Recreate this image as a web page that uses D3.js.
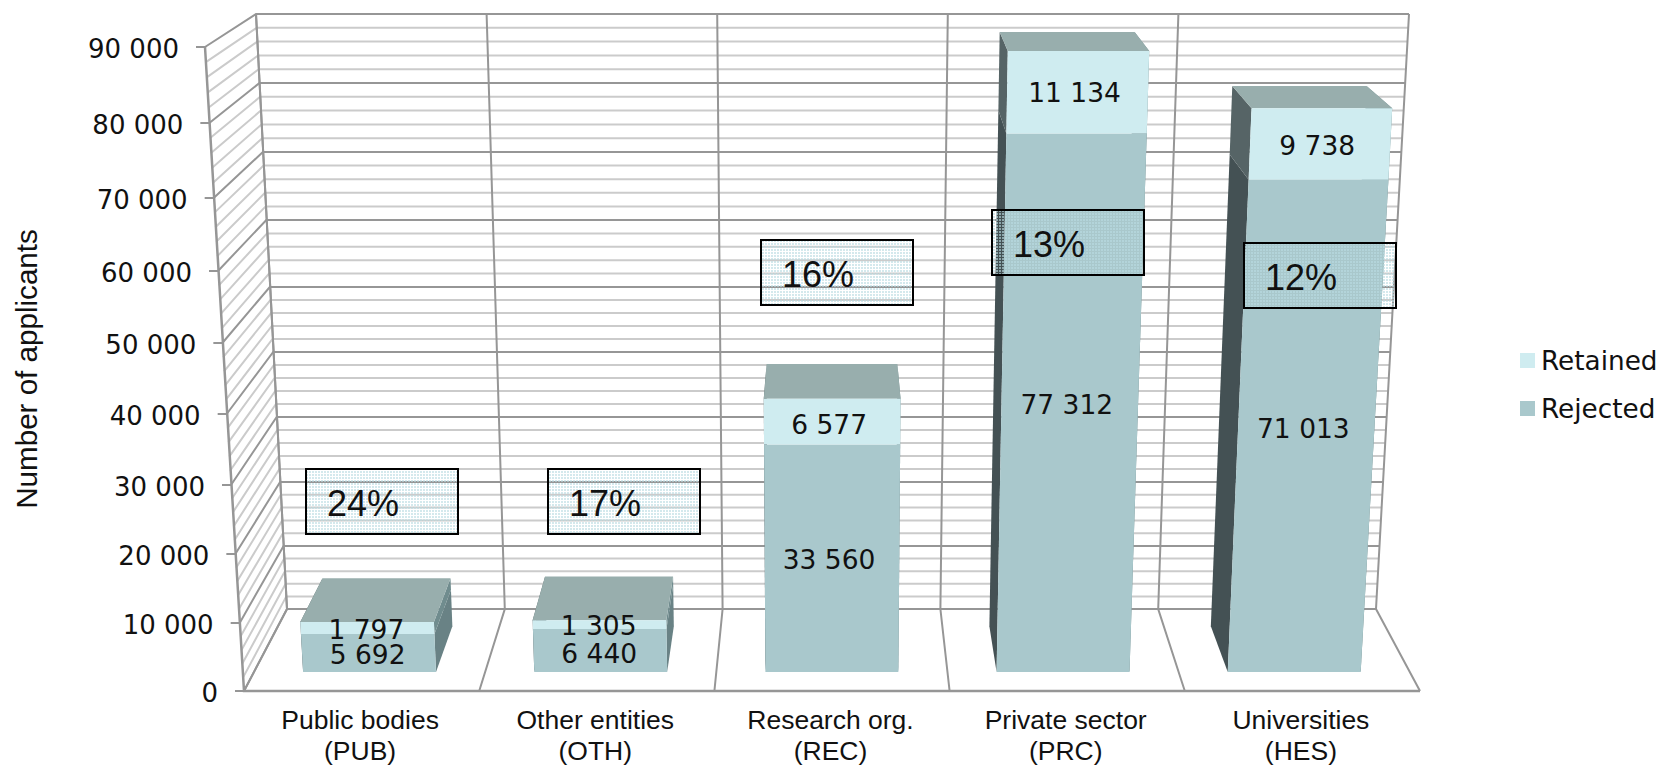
<!DOCTYPE html>
<html>
<head>
<meta charset="utf-8">
<script src="https://cdn.jsdelivr.net/npm/d3@7"></script>
<style>
html,body{margin:0;padding:0;background:#fff;overflow:hidden}
text{fill:#111}
</style>
</head>
<body>
<svg id="chart" width="1661" height="767"></svg>
<script>
// ---- data ----
const categories = ["Public bodies", "Other entities", "Research org.", "Private sector", "Universities"];
const categoryCodes = ["(PUB)", "(OTH)", "(REC)", "(PRC)", "(HES)"];
const rejected = [5692, 6440, 33560, 77312, 71013];
const retained = [1797, 1305, 6577, 11134, 9738];
const successRates = ["24%", "17%", "16%", "13%", "12%"];
const axisTicks = [0, 10000, 20000, 30000, 40000, 50000, 60000, 70000, 80000, 90000];
const tickLabels = ["0", "10 000", "20 000", "30 000", "40 000", "50 000", "60 000", "70 000", "80 000", "90 000"];
const legendLabels = ["Retained", "Rejected"];
const axisTitle = "Number of applicants";

// ---- layout of the perspective box ----
const frontYs = [691, 623, 554, 485, 414, 343, 271, 198, 123, 47];
const backYs  = [609, 546, 482, 417, 352, 287, 220, 152, 83, 14];
const yFront = d3.scaleLinear().domain(axisTicks).range(frontYs);
const yBack  = d3.scaleLinear().domain(axisTicks).range(backYs);
const vMax = 90000;
const xLF = d3.scaleLinear().domain([0, vMax]).range([244, 205]);
const xLB = d3.scaleLinear().domain([0, vMax]).range([287, 256]);
const xRF = d3.scaleLinear().domain([0, vMax]).range([1420, 1460]);
const xRB = d3.scaleLinear().domain([0, vMax]).range([1376, 1409]);
const uScale = d3.scaleBand().domain(d3.range(categories.length)).range([0, 1]);
const BAR_W = 0.115, W_FRONT = 0.232, W_BACK = 0.79;

function P(u, v, w) {
  const l = xLF(v) + (xLB(v) - xLF(v)) * w;
  const r = xRF(v) + (xRB(v) - xRF(v)) * w;
  const y = yFront(v) + (yBack(v) - yFront(v)) * w;
  return [l + (r - l) * u, y];
}
const path = pts => d3.line()(pts) + "Z";
const line = d3.line();

const svg = d3.select("#chart");
const defs = svg.append("defs");
const pat = defs.append("pattern").attr("id", "dots").attr("patternUnits", "userSpaceOnUse").attr("width", 3).attr("height", 3);
pat.append("rect").attr("width", 2).attr("height", 2).attr("fill", "#b9dce1").attr("fill-opacity", 0.62);

const MAJOR = "#969696", MINOR = "#cbcbcb";
const walls = svg.append("g").attr("fill", "none");

// gridlines at each 2000 step on left wall & back wall
const minor = d3.range(0, vMax + 1, 2000);
minor.forEach(v => {
  const isMajor = v % 10000 === 0;
  walls.append("path").attr("d", line([P(0, v, 0), P(0, v, 1), P(1, v, 1)]))
    .attr("stroke", isMajor ? MAJOR : MINOR).attr("stroke-width", 2);
});
// back wall dividers, floor dividers
d3.range(0, categories.length + 1).forEach(i => {
  const u = i / categories.length;
  walls.append("path").attr("d", line([P(u, vMax, 1), P(u, 0, 1), P(u, 0, 0)]))
    .attr("stroke", MAJOR).attr("stroke-width", 2);
});
// left wall edges and floor front edge
walls.append("path").attr("d", line([P(0, vMax, 0), P(0, 0, 0), P(1, 0, 0)])).attr("stroke", MAJOR).attr("stroke-width", 2.5);
walls.append("path").attr("d", line([P(0, vMax, 1), P(0, 0, 1)])).attr("stroke", MAJOR).attr("stroke-width", 2);
// ticks
axisTicks.forEach(v => {
  const p = P(0, v, 0);
  walls.append("line").attr("x1", p[0] - 9).attr("x2", p[0]).attr("y1", p[1]).attr("y2", p[1])
    .attr("stroke", MAJOR).attr("stroke-width", 2);
});

// tick labels
svg.append("g").selectAll("text").data(axisTicks).join("text")
  .attr("x", v => P(0, v, 0)[0] - 26)
  .attr("y", v => P(0, v, 0)[1] + 11)
  .attr("text-anchor", "end")
  .style("font", "26px 'DejaVu Sans'")
  .text((v, i) => tickLabels[i]);

// axis title
svg.append("text")
  .attr("transform", "translate(37,369) rotate(-90)")
  .attr("text-anchor", "middle")
  .style("font", "29.6px 'Liberation Sans'")
  .text(axisTitle);

// bars
const colors = {
  retained: { front: "#cfecf0", left: "#566466", right: "#708c8e" },
  rejected: { front: "#a9c8cc", left: "#445154", right: "#698285" },
  top: "#98aead"
};
const barOrder = d3.range(categories.length);
const bars = svg.append("g");
barOrder.forEach(i => {
  const uc = uScale(i) + uScale.bandwidth() / 2;
  const u0 = uc - BAR_W / 2, u1 = uc + BAR_W / 2;
  const segs = [
    { from: 0, to: rejected[i], c: colors.rejected },
    { from: rejected[i], to: rejected[i] + retained[i], c: colors.retained }
  ];
  const g = bars.append("g");
  segs.forEach(s => {
    g.append("path").attr("d", path([P(u0, s.from, W_FRONT), P(u0, s.to, W_FRONT), P(u0, s.to, W_BACK), P(u0, s.from, W_BACK)])).attr("fill", s.c.left);
    g.append("path").attr("d", path([P(u1, s.from, W_FRONT), P(u1, s.to, W_FRONT), P(u1, s.to, W_BACK), P(u1, s.from, W_BACK)])).attr("fill", s.c.right);
  });
  const tot = rejected[i] + retained[i];
  g.append("path").attr("d", path([P(u0, tot, W_FRONT), P(u1, tot, W_FRONT), P(u1, tot, W_BACK), P(u0, tot, W_BACK)])).attr("fill", colors.top);
  segs.forEach(s => {
    g.append("path").attr("d", path([P(u0, s.from, W_FRONT), P(u1, s.from, W_FRONT), P(u1, s.to, W_FRONT), P(u0, s.to, W_FRONT)])).attr("fill", s.c.front);
  });
});

// value labels, each with the small hand placement seen in the picture
const fmt = n => d3.format(",")(n).replace(/,/g, "\u00a0");
const rejNudgeX = [-1, -1, -3, -3, -3], rejNudgeY = [11.5, 12.5, 9.5, 5.5, 7.5];
const retNudgeX = [-1, -1, -3, -3, -3], retNudgeY = [11.5, 10.5, 12.5, 9.5, 10.5];
barOrder.forEach(i => {
  const uc = uScale(i) + uScale.bandwidth() / 2;
  const a = P(uc, rejected[i] / 2, W_FRONT);
  const b = P(uc, rejected[i] + retained[i] / 2, W_FRONT);
  svg.append("text").attr("x", a[0] + rejNudgeX[i]).attr("y", a[1] + rejNudgeY[i])
    .attr("text-anchor", "middle").style("font", "26.5px 'DejaVu Sans'").text(fmt(rejected[i]));
  svg.append("text").attr("x", b[0] + retNudgeX[i]).attr("y", b[1] + retNudgeY[i])
    .attr("text-anchor", "middle").style("font", "26.5px 'DejaVu Sans'").text(fmt(retained[i]));
});

// rate boxes (annotation placement)
const boxX = [306, 548, 761, 992, 1244];
const boxY = [469, 469, 240, 210, 243];
const BOX_W = 152, BOX_H = 65;
const boxes = svg.append("g");
successRates.forEach((t, i) => {
  boxes.append("rect").attr("x", boxX[i]).attr("y", boxY[i]).attr("width", BOX_W).attr("height", BOX_H)
    .attr("fill", "url(#dots)").attr("stroke", "#000").attr("stroke-width", 2);
  boxes.append("text").attr("x", boxX[i] + 21).attr("y", boxY[i] + 47)
    .style("font", "36px 'Liberation Sans'").text(t);
});

// category labels
const catX = barOrder.map(i => P(uScale(i) + uScale.bandwidth() / 2, 0, 0)[0] - 1.5);
categories.forEach((c, i) => {
  svg.append("text").attr("x", catX[i]).attr("y", 729).attr("text-anchor", "middle")
    .style("font", "26.5px 'Liberation Sans'").text(c);
  svg.append("text").attr("x", catX[i]).attr("y", 760).attr("text-anchor", "middle")
    .style("font", "26.5px 'Liberation Sans'").text(categoryCodes[i]);
});

// legend
const legendColors = [colors.retained.front, colors.rejected.front];
legendLabels.forEach((t, i) => {
  svg.append("rect").attr("x", 1520).attr("y", 353 + i * 48).attr("width", 15).attr("height", 15).attr("fill", legendColors[i]);
  svg.append("text").attr("x", 1541).attr("y", 370 + i * 48).style("font", "26.3px 'DejaVu Sans'").text(t);
});
</script>
</body>
</html>
